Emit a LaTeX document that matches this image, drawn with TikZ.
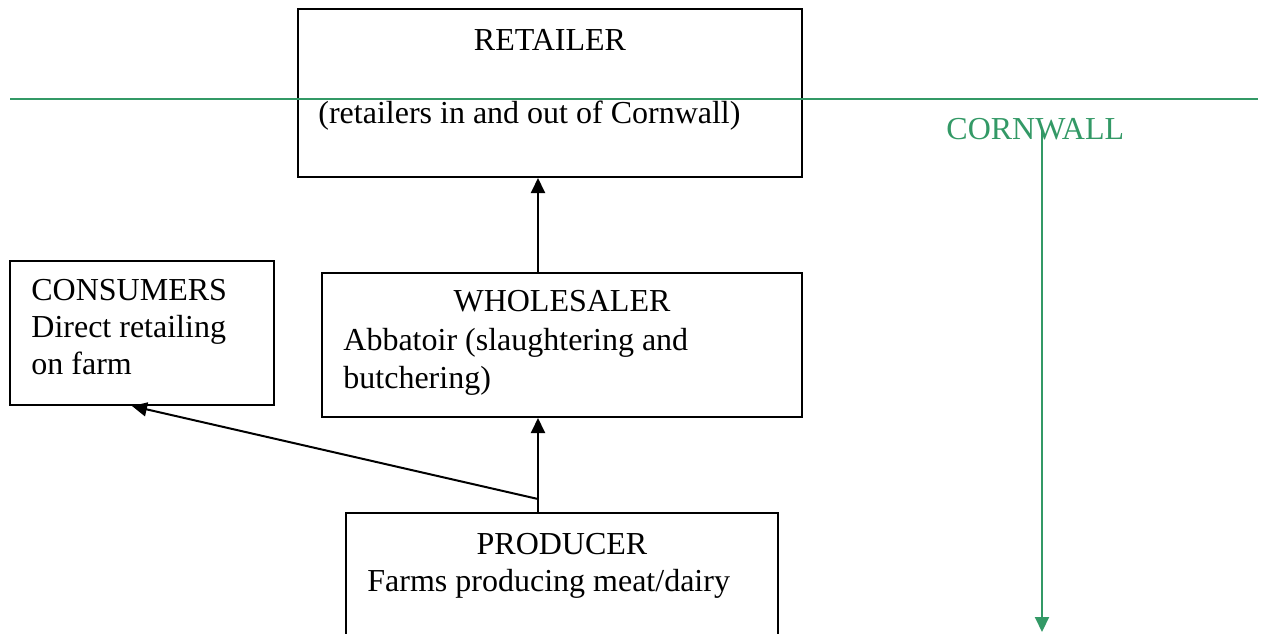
\documentclass[tikz,border=0pt]{standalone}
\usepackage{fontspec}
\setmainfont{Liberation Serif}
\usetikzlibrary{arrows.meta}
\usetikzlibrary{positioning}
\definecolor{cwgreen}{HTML}{339966}

\begin{document}
\begin{tikzpicture}[x=0.5pt,y=-0.5pt,
    box/.style={draw,line width=1pt,rectangle,inner sep=0pt},
    txt/.style={anchor=base west,inner sep=0pt,font=\fontsize{16}{18.5}\selectfont},
    ttl/.style={anchor=base,inner sep=0pt,font=\fontsize{16}{18.5}\selectfont},
    flow/.style={line width=1pt,-{Triangle[length=7.5pt,width=7pt]}},
    cw/.style={draw=cwgreen,line width=1pt}]
    \clip (0,0) rectangle (1264,633);
    % boxes
    \node (ret) [box,minimum width=252pt,minimum height=84pt] at (550,93) {};
    \node (whole) [box,minimum width=240pt,minimum height=72pt] at (562,345) {};
    \node (cons) [box,minimum width=132pt,minimum height=72pt] at (142,333) {};
    \node (prod) [box,minimum width=216pt,minimum height=70pt] at (562,583) {};
    % texts
    \node (retT) [ttl] at (550,50) {RETAILER};
    \node (retS) [txt] at (318,123) {(retailers in and out of Cornwall)};
    \node (wholeT) [ttl] at (562,311) {WHOLESALER};
    \node (wholeS) [txt] at (343,350) {Abbatoir (slaughtering and};
    \node (wholeS2) [txt] at (343,388) {butchering)};
    \node (consT) [txt] at (31,300) {CONSUMERS};
    \node (consS) [txt] at (31,337) {Direct retailing};
    \node (consS2) [txt] at (31,374) {on farm};
    \node (prodT) [ttl] at (562,554) {PRODUCER};
    \node (prodS) [txt] at (367,591) {Farms producing meat/dairy};
    % flows
    \coordinate (jn) at (538,499);
    \draw[flow] (jn |- whole.north) -- (jn |- ret.south);
    \draw[flow] (jn |- prod.north) -- (jn |- whole.south);
    \draw[line width=1pt] (jn |- prod.north) -- (jn);
    \draw[flow] (jn) -- ([xshift=-5pt]cons.south);
    % Cornwall border
    \coordinate (bl) at (10,99);
    \coordinate (br) at (1258,99);
    \draw[cw] (bl) -- (br);
    \node (cwl) [txt,text=cwgreen] at (946,139) {CORNWALL};
    \coordinate (cwtop) at (1042,130);
    \coordinate (cwbot) at (1042,632);
    \draw[cw,-{Triangle[length=7.5pt,width=7pt]},cwgreen] (cwtop) -- (cwbot);
\end{tikzpicture}
\end{document}
